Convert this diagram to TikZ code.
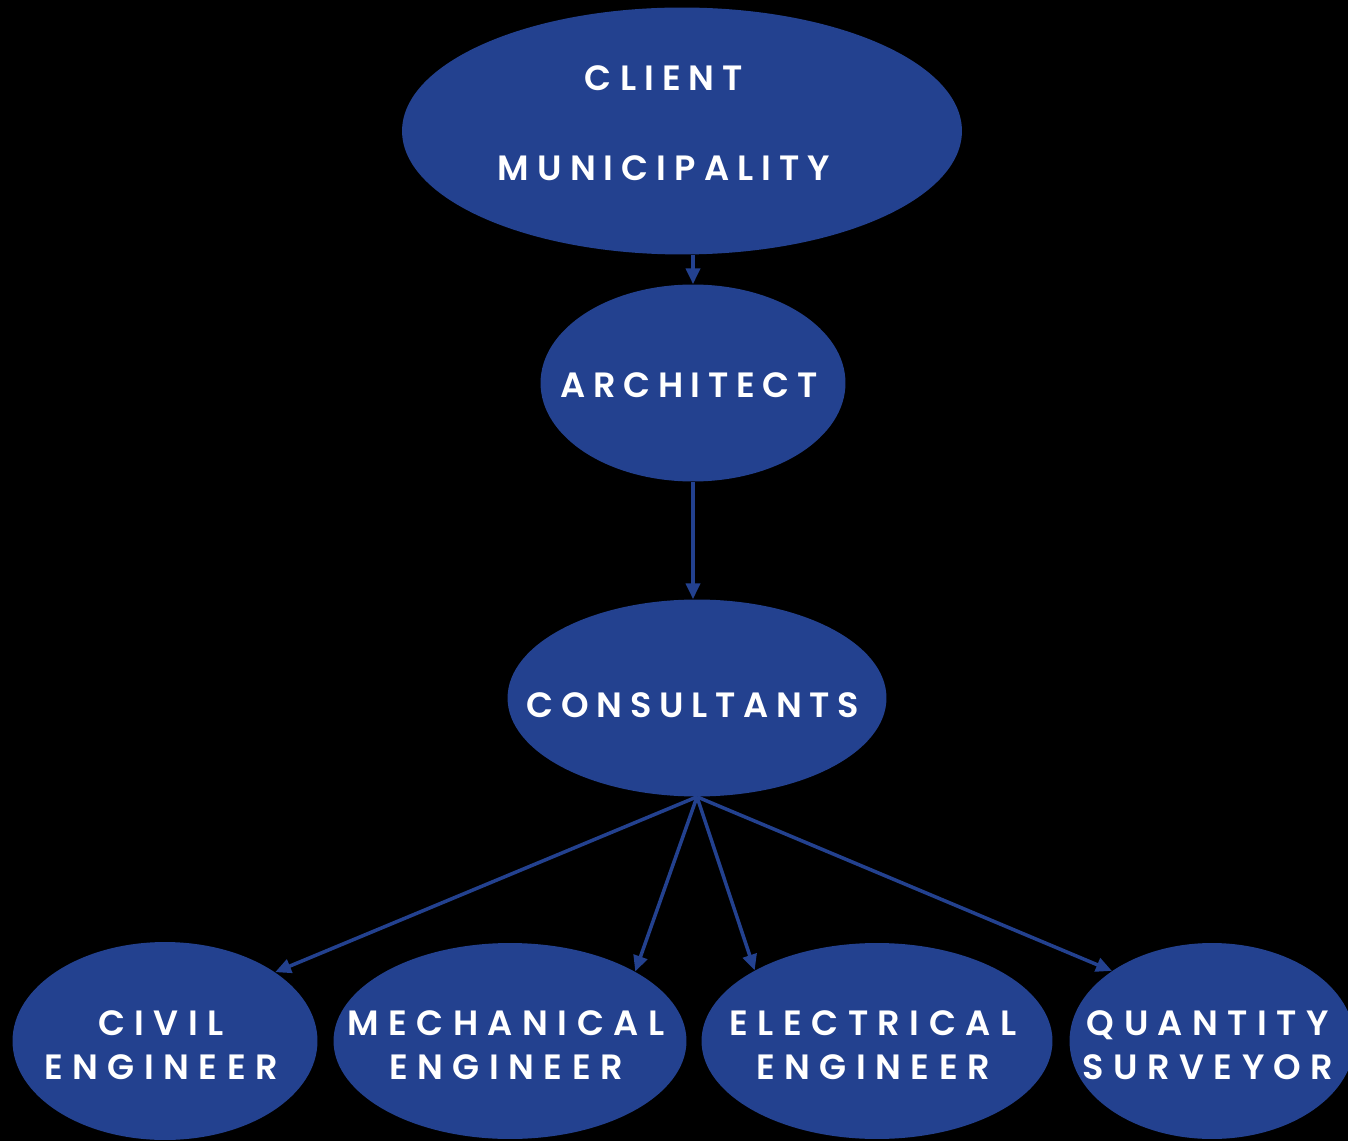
\documentclass[tikz,border=0pt]{standalone}
\usepackage{fontspec}
\setmainfont{Poppins}[BoldFont={Poppins SemiBold}]
\usetikzlibrary{shapes.geometric,arrows.meta}
\definecolor{bubbleblue}{RGB}{35,65,143}

\begin{document}
\begin{tikzpicture}[x=0.02cm,y=-0.02cm,
  bubble/.style={ellipse,fill=bubbleblue,inner sep=0pt},
  txt/.style={text=white,align=center,inner sep=0pt,xshift=-0.08cm,
    font=\bfseries\fontsize{20}{25}\selectfont\addfontfeatures{LetterSpace=22}},
  wide/.style={txt,yshift=-0.08cm,
    font=\bfseries\fontsize{20}{25}\selectfont\addfontfeatures{LetterSpace=27}},
  link/.style={->,draw=bubbleblue,line width=2pt},
  >={Triangle[length=9pt,width=8pt]}]
\useasboundingbox (0,0) rectangle (1348,1141);
\clip (0,0) rectangle (1348,1141);
\fill[black] (0,0) rectangle (1348,1141);
\node[bubble,minimum width=11.2cm,minimum height=4.94cm,
  label={[txt,xshift=-0.28cm,yshift=0.16cm,font=\bfseries\fontsize{20}{51}\selectfont\addfontfeatures{LetterSpace=23}]center:{CLIENT\\MUNICIPALITY}}] (client) at (682,131) {};
\node[bubble,minimum width=6.1cm,minimum height=3.94cm,
  label={[txt,yshift=-0.04cm]center:ARCHITECT}] (architect) at (693,383) {};
\node[bubble,minimum width=7.58cm,minimum height=3.94cm,
  label={[txt,yshift=-0.14cm]center:CONSULTANTS}] (consultants) at (697,698) {};
\node[bubble,minimum width=6.1cm,minimum height=3.96cm,
  label={[wide]center:CIVIL\\ENGINEER}] (civil) at (165,1041) {};
\node[bubble,minimum width=7.06cm,minimum height=3.92cm,
  label={[wide]center:MECHANICAL\\ENGINEER}] (mech) at (510,1041) {};
\node[bubble,minimum width=7.02cm,minimum height=3.92cm,
  label={[wide]center:ELECTRICAL\\ENGINEER}] (elec) at (877,1041) {};
\node[bubble,minimum width=5.7cm,minimum height=3.92cm,
  label={[wide]center:QUANTITY\\SURVEYOR}] (qs) at (1212,1041) {};
\draw[link](architect.north |- client.south)to (architect.north);
\draw[link](architect.south)to (architect.south |- consultants.north);
\draw[link](consultants.south)to (civil.32);
\draw[link](consultants.south)to (mech.29);
\draw[link](consultants.south)to (elec.150);
\draw[link](consultants.south)to (qs.145);
\end{tikzpicture}
\end{document}
